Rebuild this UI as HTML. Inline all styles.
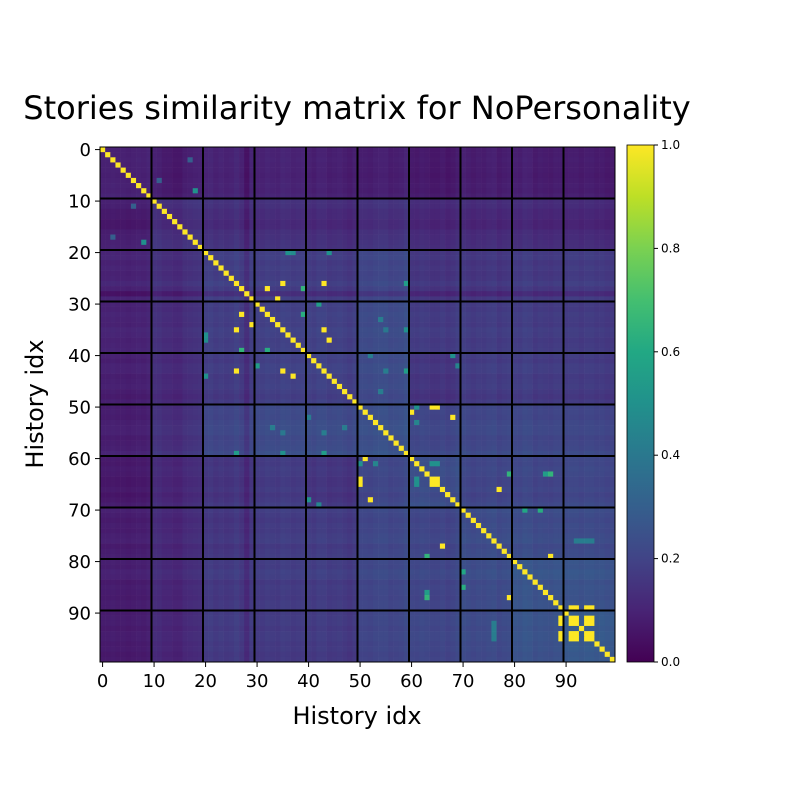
<!DOCTYPE html>
<html><head><meta charset="utf-8">
<style>
html,body{margin:0;padding:0;background:#fff;}
svg{display:block;font-family:"DejaVu Sans","Liberation Sans",sans-serif;}
</style></head>
<body>
<svg id="chart" width="800" height="800" viewBox="0 0 800 800">
<text x="357" y="119" font-size="32" text-anchor="middle">Stories similarity matrix for NoPersonality</text>
<g id="cells"></g>
<g id="grid"></g>
<g id="axes"></g>
<text x="357" y="724" font-size="24" text-anchor="middle">History idx</text>
<text x="0" y="0" font-size="24" text-anchor="middle" transform="translate(43,404) rotate(-90)">History idx</text>
<defs><linearGradient id="vir" x1="0" y1="1" x2="0" y2="0"></linearGradient></defs>
<rect x="627" y="145" width="27" height="517" fill="url(#vir)" stroke="#000" stroke-width="0.8"/>
<g id="cbticks"></g>
</svg>
<script>
// ---- data ----
const N = 100;
const tickLabels = ["0","10","20","30","40","50","60","70","80","90"];
const cbTickLabels = ["0.0","0.2","0.4","0.6","0.8","1.0"];
// 10x10 block base similarity levels (symmetric)
const blockBase = [
 [0.09,0.08,0.09,0.09,0.08,0.07,0.06,0.07,0.07,0.07],
 [0.08,0.14,0.13,0.13,0.12,0.13,0.11,0.11,0.11,0.11],
 [0.09,0.13,0.17,0.17,0.16,0.19,0.14,0.14,0.15,0.16],
 [0.09,0.13,0.17,0.18,0.18,0.21,0.16,0.16,0.16,0.16],
 [0.08,0.12,0.16,0.18,0.18,0.21,0.14,0.16,0.16,0.16],
 [0.07,0.13,0.19,0.21,0.21,0.22,0.19,0.19,0.19,0.19],
 [0.06,0.11,0.14,0.16,0.14,0.19,0.22,0.19,0.19,0.2],
 [0.07,0.11,0.14,0.16,0.16,0.19,0.19,0.21,0.21,0.21],
 [0.07,0.11,0.15,0.16,0.16,0.19,0.19,0.21,0.24,0.24],
 [0.07,0.11,0.16,0.16,0.16,0.19,0.2,0.21,0.24,0.27]
];
// per-story tone offsets
const rowTone = [
 0,0,0.01,0,0,-0.01,0,0.01,0,0.02,
 0.02,0.01,-0.02,-0.02,-0.04,-0.04,0,0.01,0.02,0.03,
 0.02,0.03,0,0.02,0,0.01,0.04,0,-0.09,0.02,
 0.01,0,0.02,0.01,0,0.03,0.02,0,0.01,0.02,
 0.02,0,0.03,0.03,0,0.01,0.02,0,-0.02,0.01,
 0.02,0.02,0.01,0.03,0.04,0.04,0.01,0.02,0.03,0.06,
 0.02,0.01,0.03,0.02,0,0,0.02,-0.01,0.01,0.04,
 0.04,0.02,0,0.02,0.01,0.03,0.04,0,0.02,0.03,
 0.03,0.02,0.05,0.04,0,0.02,0.01,0,0.02,0.02,
 0.01,0.02,0.02,0,0.02,0.02,0,0.01,-0.01,0
];
// notable pairs [row, col, value] (mirrored)
const peaks = [
 [8,18,0.5],[11,6,0.4],[6,11,0.3],[2,17,0.3],
 [26,43,1],[26,35,1],[27,32,1],[29,34,1],[37,44,1],[35,43,1],
 [27,39,0.65],[32,39,0.62],[20,36,0.5],[20,37,0.48],[20,44,0.5],[30,42,0.55],
 [26,59,0.55],[35,59,0.5],[43,59,0.55],[47,54,0.45],
 [54,33,0.42],[55,35,0.4],[52,40,0.42],[54,47,0.42],[55,43,0.42],[68,40,0.5],[69,42,0.45],
 [50,64,1],[50,65,1],[51,60,1],[52,68,1],[50,61,0.5],[53,61,0.45],
 [64,64,1],[64,65,1],[65,65,1],[61,64,0.5],[61,65,0.5],
 [63,79,0.65],[63,86,0.55],[63,87,0.65],[66,77,1],[79,87,1],
 [70,82,0.6],[70,85,0.62],[76,92,0.42],[76,93,0.42],[76,94,0.42],[76,95,0.42],
 [89,91,1],[89,92,1],[89,94,1],[89,95,1],[91,92,1],[91,94,1],[91,95,1],[92,94,1],[92,95,1],[94,95,1]
];
// ---- rendering ----
const X0 = 100, Y0 = 147, CS = 5.15;
const xPos = j => X0 + j * CS;
const yPos = i => Y0 + i * CS;
const stops = ["#440154","#482475","#414487","#355f8d","#2a788e","#21918c","#22a884","#44bf70","#7ad151","#bddf26","#fde725"];
function hex(c){return [parseInt(c.substr(1,2),16),parseInt(c.substr(3,2),16),parseInt(c.substr(5,2),16)];}
function viridis(v){
  v = Math.max(0, Math.min(1, v));
  const f = v * 10, k = Math.min(9, Math.floor(f)), t = f - k;
  const a = hex(stops[k]), b = hex(stops[k+1]);
  return "rgb(" + a.map((x,n)=>Math.round(x + (b[n]-x)*t)).join(",") + ")";
}
const M = [];
for (let i = 0; i < N; i++) {
  M.push([]);
  for (let j = 0; j < N; j++) {
    M[i].push(i === j ? 1 : blockBase[Math.floor(i/10)][Math.floor(j/10)] + (rowTone[i] + rowTone[j]) / 2);
  }
}
peaks.forEach(p => { M[p[0]][p[1]] = p[2]; M[p[1]][p[0]] = p[2]; });
const NS = "http://www.w3.org/2000/svg";
const cells = document.getElementById("cells");
for (let i = 0; i < N; i++) for (let j = 0; j < N; j++) {
  const r = document.createElementNS(NS, "rect");
  r.setAttribute("x", xPos(j).toFixed(2));
  r.setAttribute("y", yPos(i).toFixed(2));
  r.setAttribute("width", (CS + 0.3).toFixed(2));
  r.setAttribute("height", (CS + 0.3).toFixed(2));
  r.setAttribute("fill", viridis(M[i][j]));
  
  
  cells.appendChild(r);
}
const grid = document.getElementById("grid");
for (let k = 1; k < 10; k++) {
  const p = X0 + k * 10 * CS, q = Y0 + k * 10 * CS;
  const v = document.createElementNS(NS, "line");
  v.setAttribute("x1", p); v.setAttribute("x2", p); v.setAttribute("y1", Y0); v.setAttribute("y2", Y0 + N*CS);
  v.setAttribute("stroke", "#000"); v.setAttribute("stroke-width", "2");
  
  
  grid.appendChild(v);
  const h = document.createElementNS(NS, "line");
  h.setAttribute("y1", q); h.setAttribute("y2", q); h.setAttribute("x1", X0); h.setAttribute("x2", X0 + N*CS);
  h.setAttribute("stroke", "#000"); h.setAttribute("stroke-width", "2");
  
  
  grid.appendChild(h);
}
const axes = document.getElementById("axes");
const frame = document.createElementNS(NS, "rect");
frame.setAttribute("x", X0); frame.setAttribute("y", Y0);
frame.setAttribute("width", N*CS); frame.setAttribute("height", N*CS);
frame.setAttribute("fill", "none"); frame.setAttribute("stroke", "#000"); frame.setAttribute("stroke-width", "1");


axes.appendChild(frame);
tickLabels.forEach((lab, k) => {
  const val = k * 10;
  const cx = xPos(val) + CS/2, cy = yPos(val) + CS/2;
  const tx = document.createElementNS(NS, "line");
  tx.setAttribute("x1", cx); tx.setAttribute("x2", cx); tx.setAttribute("y1", Y0 + N*CS); tx.setAttribute("y2", Y0 + N*CS + 5);
  tx.setAttribute("stroke", "#000");
  
  
  axes.appendChild(tx);
  const lx = document.createElementNS(NS, "text");
  lx.setAttribute("x", cx); lx.setAttribute("y", Y0 + N*CS + 25);
  lx.setAttribute("font-size", "18"); lx.setAttribute("text-anchor", "middle");
  lx.textContent = lab;
  
  
  axes.appendChild(lx);
  const ty = document.createElementNS(NS, "line");
  ty.setAttribute("y1", cy); ty.setAttribute("y2", cy); ty.setAttribute("x1", X0 - 5); ty.setAttribute("x2", X0);
  ty.setAttribute("stroke", "#000");
  
  
  axes.appendChild(ty);
  const ly = document.createElementNS(NS, "text");
  ly.setAttribute("x", X0 - 9); ly.setAttribute("y", cy + 6.5);
  ly.setAttribute("font-size", "18"); ly.setAttribute("text-anchor", "end");
  ly.textContent = lab;
  
  
  axes.appendChild(ly);
});
const grad = document.getElementById("vir");
stops.forEach((c, k) => {
  const s = document.createElementNS(NS, "stop");
  s.setAttribute("offset", (k/10).toFixed(2)); s.setAttribute("stop-color", c);
  grad.appendChild(s);
});
const cb = document.getElementById("cbticks");
const cbY = v => 662 - v * 517;
cbTickLabels.forEach(lab => {
  const v = parseFloat(lab), y = cbY(v);
  const t = document.createElementNS(NS, "line");
  t.setAttribute("x1", 654); t.setAttribute("x2", 658); t.setAttribute("y1", y); t.setAttribute("y2", y);
  t.setAttribute("stroke", "#000");
  
  
  cb.appendChild(t);
  const l = document.createElementNS(NS, "text");
  l.setAttribute("x", 661); l.setAttribute("y", y + 4);
  l.setAttribute("font-size", "12");
  l.textContent = lab;
  
  
  cb.appendChild(l);
});
</script>
</body></html>
